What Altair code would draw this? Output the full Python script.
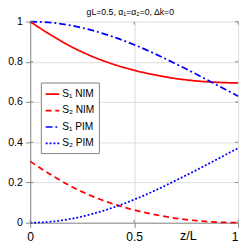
import altair as alt
import pandas as pd

# values
z = [0.0, 0.1, 0.2, 0.3, 0.4, 0.5, 0.6, 0.7, 0.8, 0.9, 1.0]
s1_nim = [1.0, 0.933, 0.874, 0.826, 0.788, 0.758, 0.735, 0.717, 0.705, 0.698, 0.695]
s2_nim = [0.305, 0.238, 0.179, 0.131, 0.093, 0.063, 0.040, 0.022, 0.010, 0.003, 0.0]
s1_pim = [1.0, 0.995, 0.980, 0.956, 0.924, 0.885, 0.840, 0.790, 0.738, 0.684, 0.629]
s2_pim = [0.0, 0.005, 0.020, 0.044, 0.076, 0.115, 0.160, 0.210, 0.262, 0.316, 0.371]
series_names = ["S\u2081 NIM", "S\u2082 NIM", "S\u2081 PIM", "S\u2082 PIM"]
y_ticks = [0, 0.2, 0.4, 0.6, 0.8, 1]
x_ticks = [0, 0.5, 1]
title_text = "gL=0.5,  \u03b1\u2081=\u03b1\u2082=0, \u0394k=0"

rows = []
for name, vals in zip(series_names, [s1_nim, s2_nim, s1_pim, s2_pim]):
    for zi, v in zip(z, vals):
        rows.append({"z": zi, "S": v, "series": name})
df = pd.DataFrame(rows)

W, H = 215, 208
FRAME = "#808080"
FONT = "Liberation Sans"
xs = alt.Scale(domain=[0, 1], nice=False, zero=False)
ys = alt.Scale(domain=[0, 1], nice=False, zero=False)
inner = {"condition": {"test": "datum.value > 0.001 && datum.value < 0.999", "value": 1}, "value": 0}
x_align = {"condition": {"test": "datum.value > 0.999", "value": "right"}, "value": "center"}

x_axis = alt.Axis(
    values=x_ticks, format="~g", title="z/L", grid=True, gridOpacity=inner,
    titleX=163, titleY=17, titleBaseline="alphabetic", titleAlign="center",
    titleFontWeight="normal", titleFontSize=13, titleFont=FONT, titleColor="black",
    labelPadding=3, labelAlign=x_align, labelFontSize=12.5)
y_axis = alt.Axis(values=y_ticks, format="~g", title=None, grid=True, gridOpacity=inner,
                  labelPadding=3, labelFontSize=11, labelAlign="right")

leg = alt.Legend(
    title=None, orient="none", legendX=11, legendY=63,
    symbolType="stroke", symbolSize=196, symbolStrokeWidth=1.8,
    labelFontSize=10.5, labelFont=FONT, labelColor="black",
    padding=4, rowPadding=3, labelOffset=2,
    strokeColor=FRAME, fillColor="white", labelLimit=120,
)

lines = alt.Chart(df).mark_line(strokeWidth=1.8, interpolate="monotone").encode(
    x=alt.X("z:Q", scale=xs, axis=x_axis, title="z/L"),
    y=alt.Y("S:Q", scale=ys, axis=y_axis, title=None),
    color=alt.Color("series:N", scale=alt.Scale(domain=series_names,
                    range=["#ff0000", "#ff0000", "#0000ff", "#0000ff"]), legend=leg),
    strokeDash=alt.StrokeDash("series:N", scale=alt.Scale(domain=series_names,
                    range=[[1, 0], [6, 4], [7, 3, 2, 3], [2, 2]]), legend=leg),
)

ydf = pd.DataFrame({"v": y_ticks})
xdf = pd.DataFrame({"v": x_ticks})
yl = alt.Chart(ydf).mark_rule(color=FRAME, strokeWidth=1).encode(
    y=alt.Y("v:Q", scale=ys, axis=y_axis, title=None), x=alt.value(0), x2=alt.value(3))
yr = alt.Chart(ydf).mark_rule(color=FRAME, strokeWidth=1).encode(
    y=alt.Y("v:Q", scale=ys, axis=y_axis, title=None), x=alt.value(W - 3), x2=alt.value(W))
xb = alt.Chart(xdf).mark_rule(color=FRAME, strokeWidth=1).encode(
    x=alt.X("v:Q", scale=xs, axis=x_axis, title="z/L"), y=alt.value(H - 3), y2=alt.value(H))
xt = alt.Chart(xdf).mark_rule(color=FRAME, strokeWidth=1).encode(
    x=alt.X("v:Q", scale=xs, axis=x_axis, title="z/L"), y=alt.value(0), y2=alt.value(3))

chart = alt.layer(lines, yl, yr, xb, xt).properties(
    width=W, height=H,
    title=alt.TitleParams(title_text, fontSize=9, font=FONT, fontWeight="normal",
                          color="black", anchor="middle", offset=-1.5, dx=-4),
    autosize=alt.AutoSizeParams(type="none"),
    padding={"left": 23, "top": 10, "right": 3, "bottom": 20},
).configure_view(stroke=FRAME, strokeWidth=1).configure_axis(
    domain=False, ticks=False, labelFont=FONT, labelColor="black",
    gridColor="#c8c8c8", gridDash=[1, 2], gridWidth=1,
).configure(background="white")

chart.save("out.html", embed_options={"renderer": "svg", "actions": False})
